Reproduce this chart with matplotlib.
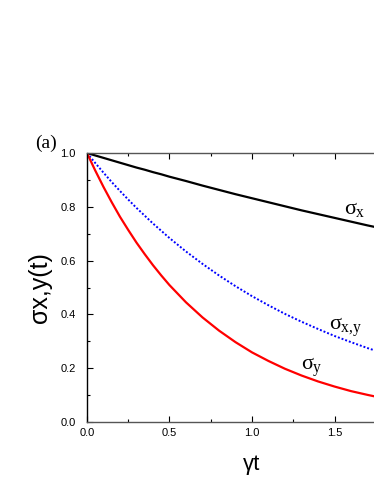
import numpy as np
import matplotlib
matplotlib.use('Agg')
import matplotlib.pyplot as plt
from matplotlib.ticker import MultipleLocator

# valeurs (gamma*t de 0 a 1.8)
gt = [0.0, 0.05, 0.1, 0.15, 0.2, 0.25, 0.3, 0.35, 0.4, 0.45, 0.5, 0.6, 0.7, 0.8, 0.9,
      1.0, 1.1, 1.2, 1.3, 1.4, 1.5, 1.6, 1.7, 1.8]
sigma_x = [1.000, 0.991, 0.982, 0.973, 0.964, 0.955, 0.946, 0.938, 0.929, 0.921, 0.912,
           0.896, 0.879, 0.863, 0.847,
           0.832, 0.817, 0.802, 0.787, 0.773, 0.759, 0.745, 0.731, 0.718]
sigma_xy = [1.000, 0.963, 0.927, 0.892, 0.859, 0.827, 0.796, 0.767, 0.738, 0.711, 0.684,
            0.634, 0.588, 0.545, 0.505,
            0.468, 0.434, 0.402, 0.373, 0.346, 0.320, 0.297, 0.275, 0.255]
sigma_y = [1.000, 0.935, 0.874, 0.817, 0.763, 0.714, 0.667, 0.624, 0.583, 0.545, 0.509,
           0.445, 0.389, 0.340, 0.297,
           0.259, 0.227, 0.198, 0.173, 0.151, 0.132, 0.115, 0.101, 0.088]

x_ticks = [0.0, 0.5, 1.0, 1.5]
y_ticks = [0.0, 0.2, 0.4, 0.6, 0.8, 1.0]

plt.rcParams['font.family'] = 'Liberation Sans'
plt.rcParams['mathtext.fontset'] = 'custom'
plt.rcParams['mathtext.rm'] = 'Liberation Serif'
plt.rcParams['mathtext.it'] = 'Liberation Serif'

fig = plt.figure(figsize=(3.74, 4.84), dpi=100)
# l'axe depasse a droite de la figure (image recadree)
ax = fig.add_axes([0.2326, 0.128, 0.8824, 0.5558])

ax.plot(gt, sigma_x, color='black', lw=1.6)
ax.plot(gt, sigma_xy, color='blue', lw=1.4, ls=(0, (1, 1)))
ax.plot(gt, sigma_y, color='red', lw=1.6)

ax.set_xlim(0, 2)
ax.set_ylim(0, 1)
ax.set_xticks(x_ticks)
ax.set_yticks(y_ticks)
ax.xaxis.set_minor_locator(MultipleLocator(0.25))
ax.yaxis.set_minor_locator(MultipleLocator(0.1))
ax.tick_params(which='both', direction='in', top=True, right=True, labelsize=8)
ax.tick_params(which='major', length=4, width=0.8)
ax.tick_params(which='minor', length=2.5, width=0.8)
ax.tick_params(axis='y', pad=8)
ax.tick_params(axis='x', pad=4)
for s in ax.spines.values():
    s.set_linewidth(1.0)
ax.spines['bottom'].set_color('#555555')
ax.spines['top'].set_color('#555555')

ax.set_xlabel('γt', fontsize=16, labelpad=12)
ax.set_ylabel('σx,y(t)', fontsize=18, labelpad=6)

ax.text(1.56, 0.775, r'$\sigma_x$', fontsize=16, ha='left', va='baseline')
ax.text(1.467, 0.342, r'$\sigma_{x{,}y}$', fontsize=16, ha='left', va='baseline')
ax.text(1.295, 0.193, r'$\sigma_y$', fontsize=16, ha='left', va='baseline')

fig.text(0.094, 0.703, '(a)', fontsize=14, family='Liberation Serif', ha='left', va='center')

fig.savefig('out.png', dpi=100)
